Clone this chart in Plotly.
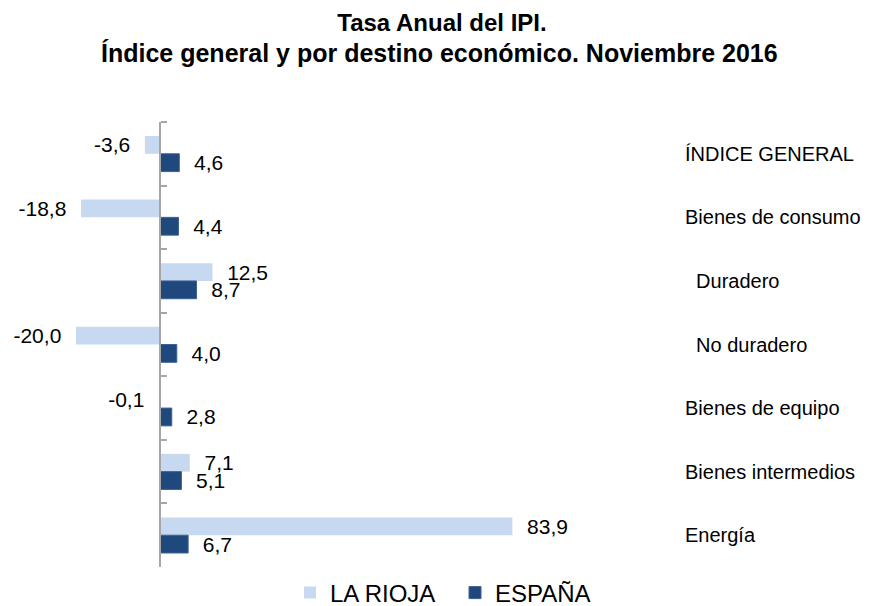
import plotly.graph_objects as go

categories = ["ÍNDICE GENERAL", "Bienes de consumo", "\u00a0\u00a0Duradero", "\u00a0\u00a0No duradero",
              "Bienes de equipo", "Bienes intermedios", "Energía"]
la_rioja = [-3.6, -18.8, 12.5, -20.0, -0.1, 7.1, 83.9]
espana = [4.6, 4.4, 8.7, 4.0, 2.8, 5.1, 6.7]
series_names = ["LA RIOJA", "ESPAÑA"]
title_lines = ["Tasa Anual del IPI.", "Índice general y por destino económico. Noviembre 2016"]

FONT = "Liberation Sans, Arial, sans-serif"
PAD = "\u00a0\u00a0"


def labels(vals):
    out = []
    for v in vals:
        s = f"{v:.1f}".replace(".", ",")
        out.append(s + PAD if v < 0 else PAD + s)
    return out


X_MIN, X_MAX = -33.33, 123.81
L, T = 12, 114
W, H = 660, 445
R, B = 876 - L - W, 606 - T - H
zero_pos = (0 - X_MIN) / (X_MAX - X_MIN)
OFF = 8  # page offset of the figure

fig = go.Figure()
fig.add_trace(go.Bar(
    y=categories, x=la_rioja, orientation="h", name=series_names[0],
    marker=dict(color="#C6D9F1", line=dict(width=0)),
    text=labels(la_rioja), textposition="outside", constraintext="none",
    textfont=dict(size=21, color="black", family=FONT), cliponaxis=False,
))
fig.add_trace(go.Bar(
    y=categories, x=espana, orientation="h", name=series_names[1],
    marker=dict(color="#1F497D", line=dict(width=1, color="#3A6296")),
    text=labels(espana), textposition="outside", constraintext="none",
    textfont=dict(size=21, color="black", family=FONT), cliponaxis=False,
))

fig.update_layout(
    width=876, height=606,
    margin=dict(l=L, r=R, t=T, b=B, autoexpand=False),
    paper_bgcolor="white", plot_bgcolor="white",
    barmode="group", bargap=0.44, bargroupgap=0,
    font=dict(family=FONT, color="black"),
    title=dict(
        text="<b>" + title_lines[0] + "</b>",
        xref="container", yref="container",
        x=(442 - OFF) / 876, xanchor="center", y=1 - (23 - OFF) / 606, yanchor="middle",
        font=dict(size=24, family=FONT, color="black"),
    ),
    annotations=[dict(
        text="<b>" + title_lines[1] + "</b>",
        xref="paper", yref="paper",
        x=(439 - OFF - L) / W, xanchor="center",
        y=1 + (T - (53 - OFF)) / H, yanchor="middle",
        showarrow=False, font=dict(size=25, family=FONT, color="black"),
    )],
    xaxis=dict(range=[X_MIN, X_MAX], visible=False, showgrid=False, zeroline=False, domain=[0, 1]),
    yaxis=dict(
        type="category", categoryorder="array", categoryarray=categories,
        autorange="reversed", anchor="free", position=zero_pos, side="right",
        showline=True, linecolor="#A6A6A6", linewidth=2,
        ticks="outside", tickson="boundaries", ticklen=6, tickcolor="#A6A6A6", tickwidth=2,
        showgrid=False, zeroline=False,
        ticklabelstandoff=520,
        tickfont=dict(size=20, family=FONT, color="black"),
        automargin=False,
    ),
    legend=dict(
        orientation="h", xref="container", yref="container",
        x=(290 - OFF) / 876, xanchor="left", y=(606 - 593 + OFF) / 606, yanchor="middle",
        font=dict(size=24, family=FONT, color="black"),
        traceorder="normal", entrywidth=120, entrywidthmode="pixels",
    ),
    showlegend=True,
)

fig.write_html("out.html")
